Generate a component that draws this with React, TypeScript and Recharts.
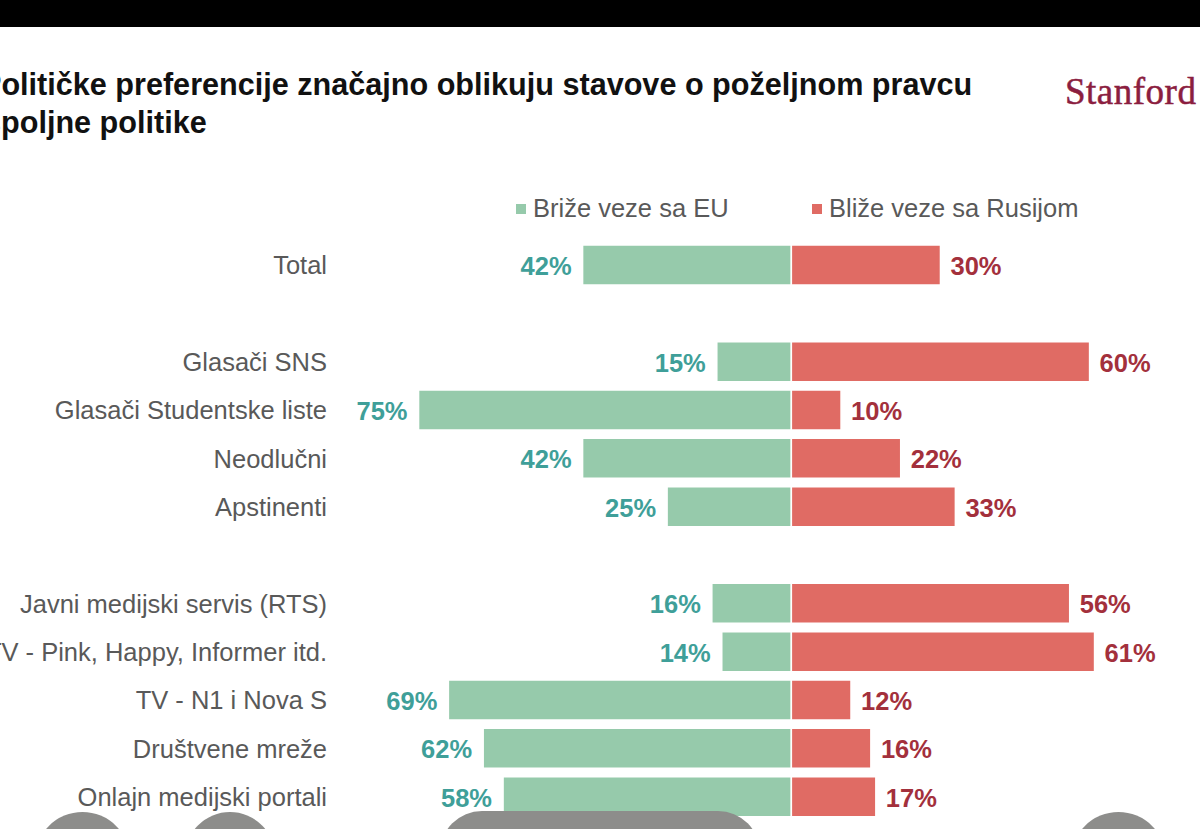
import React from 'react';
import { BarChart, Bar, XAxis, YAxis, LabelList, Legend } from 'recharts';

const categories = [
  'Total',
  '',
  'Glasači SNS',
  'Glasači Studentske liste',
  'Neodlučni',
  'Apstinenti',
  '',
  'Javni medijski servis (RTS)',
  'TV - Pink, Happy, Informer itd.',
  'TV - N1 i Nova S',
  'Društvene mreže',
  'Onlajn medijski portali',
];
const euValues: (number | null)[] = [42, null, 15, 75, 42, 25, null, 16, 14, 69, 62, 58];
const ruValues: (number | null)[] = [30, null, 60, 10, 22, 33, null, 56, 61, 12, 16, 17];
const seriesNames = ['Briže veze sa EU', 'Bliže veze sa Rusijom'];
const titleLines = [
  'Političke preferencije značajno oblikuju stavove o poželjnom pravcu',
  'spoljne politike',
];
const brand = 'Stanford';

const GREEN = '#96caab';
const RED = '#e06b64';
const TEAL_TEXT = '#3f9f99';
const RED_TEXT = '#a3303c';
const GREY_TEXT = '#595959';
const FONT = '"Liberation Sans", Arial, sans-serif';

const data = categories.map((name, i) => ({
  key: `r${i}`,
  name,
  eu: euValues[i] == null ? null : -(euValues[i] as number),
  ru: ruValues[i],
}));
const nameByKey: Record<string, string> = {};
data.forEach((d) => (nameByKey[d.key] = d.name));

const EuLabel = (props: any) => {
  const { x, y, width, height, value } = props;
  if (value == null) return null;
  const left = Math.min(Number(x), Number(x) + Number(width));
  return (
    <text
      x={left - 11}
      y={Number(y) + Number(height) / 2 + 1}
      textAnchor="end"
      dominantBaseline="central"
      fontFamily={FONT}
      fontWeight="bold"
      fontSize={25.5}
      fill={TEAL_TEXT}
    >
      {Math.abs(value)}%
    </text>
  );
};

const RuLabel = (props: any) => {
  const { x, y, width, height, value } = props;
  if (value == null) return null;
  const right = Math.max(Number(x), Number(x) + Number(width));
  return (
    <text
      x={right + 10}
      y={Number(y) + Number(height) / 2 + 1}
      textAnchor="start"
      dominantBaseline="central"
      fontFamily={FONT}
      fontWeight="bold"
      fontSize={25.5}
      fill={RED_TEXT}
    >
      {value}%
    </text>
  );
};

const LegendContent = () => (
  <div style={{ display: 'flex', fontFamily: FONT, fontSize: 25.5, color: GREY_TEXT }}>
    {seriesNames.map((n, i) => (
      <div key={n} style={{ display: 'flex', alignItems: 'center', width: i === 0 ? 296 : 300 }}>
        <span
          style={{
            display: 'inline-block',
            width: 10,
            height: 10,
            background: i === 0 ? GREEN : RED,
            marginRight: 7,
          }}
        />
        <span>{n}</span>
      </div>
    ))}
  </div>
);

const blob = (left: number, top: number, w: number, h: number, r: number | string): React.CSSProperties => ({
  position: 'absolute',
  left,
  top,
  width: w,
  height: h,
  borderRadius: r,
  background: '#8d8d8b',
  zIndex: 5,
});

export default function App() {
  return (
    <div
      style={{
        position: 'absolute',
        left: 0,
        top: 0,
        width: 1200,
        height: 829,
        overflow: 'hidden',
        background: '#ffffff',
      }}
    >
      <div style={{ position: 'absolute', left: 0, top: 0, width: 1200, height: 27, background: '#000' }} />
      {titleLines.map((t, i) => (
        <div
          key={i}
          style={{
            position: 'absolute',
            left: i === 0 ? -19 : -16,
            top: 67 + i * 38,
            fontFamily: FONT,
            fontWeight: 'bold',
            fontSize: 30.6,
            lineHeight: '34px',
            color: '#111',
            whiteSpace: 'nowrap',
          }}
        >
          {t}
        </div>
      ))}
      <div
        style={{
          position: 'absolute',
          left: 1065,
          top: 71,
          fontFamily: '"Liberation Serif", "Times New Roman", serif',
          fontSize: 37,
          lineHeight: '42px',
          letterSpacing: 0.5,
          color: '#8b1e3f',
          WebkitTextStroke: '0.5px #8b1e3f',
          whiteSpace: 'nowrap',
        }}
      >
        {brand}
      </div>
      <div style={{ position: 'absolute', left: 0, top: 0 }}>
        <BarChart
          width={1200}
          height={829}
          data={data}
          layout="vertical"
          stackOffset="sign"
          margin={{ top: 212, right: 11, bottom: 8, left: 0 }}
        >
          <XAxis type="number" hide domain={[-90, 80]} allowDataOverflow />
          <YAxis
            type="category"
            dataKey="key"
            width={344}
            axisLine={false}
            tickLine={false}
            tickSize={0}
            tickMargin={17}
            interval={0}
            tickFormatter={(k: string) => nameByKey[k] ?? ''}
            tick={{ fontFamily: FONT, fontSize: 25.5, fill: GREY_TEXT }}
          />
          <Legend
            verticalAlign="top"
            content={LegendContent}
            wrapperStyle={{ position: 'absolute', top: 194, left: 516, width: 640 }}
          />
          <Bar
            dataKey="eu"
            name={seriesNames[0]}
            stackId="s"
            fill={GREEN}
            stroke="#ffffff"
            strokeWidth={1.5}
            barSize={40}
            isAnimationActive={false}
          >
            <LabelList dataKey="eu" content={EuLabel} />
          </Bar>
          <Bar
            dataKey="ru"
            name={seriesNames[1]}
            stackId="s"
            fill={RED}
            stroke="#ffffff"
            strokeWidth={1.5}
            barSize={40}
            isAnimationActive={false}
          >
            <LabelList dataKey="ru" content={RuLabel} />
          </Bar>
        </BarChart>
      </div>
      <div style={blob(35, 812, 95, 95, '50%')} />
      <div style={blob(185, 812, 90, 90, '50%')} />
      <div style={blob(440, 811, 320, 90, 42)} />
      <div style={blob(1071, 812, 95, 95, '50%')} />
    </div>
  );
}
